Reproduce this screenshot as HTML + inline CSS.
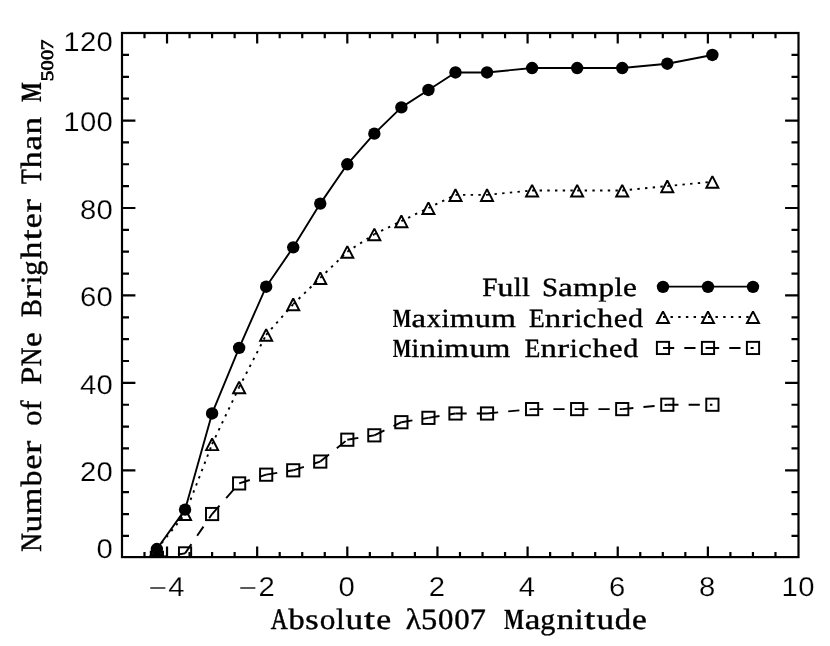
<!DOCTYPE html>
<html lang="en"><head><meta charset="utf-8"><title>PNe luminosity function</title>
<style>
html,body{margin:0;padding:0;background:#fff;}
body{width:830px;height:646px;overflow:hidden;}
svg{display:block;text-rendering:geometricPrecision;will-change:transform;}
.tk{font-family:"Liberation Sans",sans-serif;font-size:27.1px;fill:#000;stroke:#fff;stroke-width:0.2px;}
.ti{font-family:"Liberation Serif",serif;font-size:29.4px;fill:#000;stroke:#000;stroke-width:0.4px;}
.lg{font-family:"Liberation Serif",serif;font-size:26.3px;fill:#000;stroke:#000;stroke-width:0.4px;}
.sb{font-family:"Liberation Serif",serif;font-size:17.6px;fill:#000;stroke:#000;stroke-width:0.7px;}
</style></head><body>
<svg width="830" height="646" viewBox="0 0 830 646">
<rect x="0" y="0" width="830" height="646" fill="#fff"/>
<g stroke="#000" stroke-width="2.2" fill="none" stroke-linecap="butt">
<rect x="122.0" y="33.0" width="676.50" height="524.10"/>
<path d="M144.50 557.1V551.90M144.50 33.0V38.20M167.03 557.1V546.50M167.03 33.0V43.60M189.56 557.1V551.90M189.56 33.0V38.20M212.10 557.1V551.90M212.10 33.0V38.20M234.63 557.1V551.90M234.63 33.0V38.20M257.17 557.1V546.50M257.17 33.0V43.60M279.70 557.1V551.90M279.70 33.0V38.20M302.24 557.1V551.90M302.24 33.0V38.20M324.77 557.1V551.90M324.77 33.0V38.20M347.31 557.1V546.50M347.31 33.0V43.60M369.84 557.1V551.90M369.84 33.0V38.20M392.38 557.1V551.90M392.38 33.0V38.20M414.91 557.1V551.90M414.91 33.0V38.20M437.45 557.1V546.50M437.45 33.0V43.60M459.98 557.1V551.90M459.98 33.0V38.20M482.52 557.1V551.90M482.52 33.0V38.20M505.06 557.1V551.90M505.06 33.0V38.20M527.59 557.1V546.50M527.59 33.0V43.60M550.12 557.1V551.90M550.12 33.0V38.20M572.66 557.1V551.90M572.66 33.0V38.20M595.20 557.1V551.90M595.20 33.0V38.20M617.73 557.1V546.50M617.73 33.0V43.60M640.26 557.1V551.90M640.26 33.0V38.20M662.80 557.1V551.90M662.80 33.0V38.20M685.34 557.1V551.90M685.34 33.0V38.20M707.87 557.1V546.50M707.87 33.0V43.60M730.41 557.1V551.90M730.41 33.0V38.20M752.94 557.1V551.90M752.94 33.0V38.20M775.48 557.1V551.90M775.48 33.0V38.20M122.0 535.89H129.00M798.5 535.89H791.50M122.0 514.03H129.00M798.5 514.03H791.50M122.0 492.17H129.00M798.5 492.17H791.50M122.0 470.31H135.40M798.5 470.31H785.10M122.0 448.45H129.00M798.5 448.45H791.50M122.0 426.59H129.00M798.5 426.59H791.50M122.0 404.73H129.00M798.5 404.73H791.50M122.0 382.87H135.40M798.5 382.87H785.10M122.0 361.01H129.00M798.5 361.01H791.50M122.0 339.14H129.00M798.5 339.14H791.50M122.0 317.28H129.00M798.5 317.28H791.50M122.0 295.42H135.40M798.5 295.42H785.10M122.0 273.56H129.00M798.5 273.56H791.50M122.0 251.70H129.00M798.5 251.70H791.50M122.0 229.84H129.00M798.5 229.84H791.50M122.0 207.98H135.40M798.5 207.98H785.10M122.0 186.12H129.00M798.5 186.12H791.50M122.0 164.26H129.00M798.5 164.26H791.50M122.0 142.40H129.00M798.5 142.40H791.50M122.0 120.54H135.40M798.5 120.54H785.10M122.0 98.68H129.00M798.5 98.68H791.50M122.0 76.82H129.00M798.5 76.82H791.50M122.0 54.96H129.00M798.5 54.96H791.50"/>
</g>
<defs><clipPath id="pc"><rect x="122.0" y="33.0" width="676.50" height="524.10"/></clipPath></defs>
<g clip-path="url(#pc)">
<polyline points="156.89,549.01 185.06,509.66 212.10,413.47 239.14,347.89 266.18,286.68 293.23,247.33 320.27,203.61 347.31,164.26 374.35,133.66 401.39,107.42 428.44,89.94 455.48,72.45 487.03,72.45 532.10,68.07 577.17,68.07 622.24,68.07 667.31,63.70 712.38,54.96" stroke="#000" stroke-width="1.9" fill="none" stroke-linejoin="round"/>
<g stroke="#000" stroke-width="1.9" fill="none" stroke-dasharray="2.4 5.3" stroke-dashoffset="0.2"><line x1="156.89" y1="549.01" x2="185.06" y2="514.03"/><line x1="185.06" y1="514.03" x2="212.10" y2="444.08"/><line x1="212.10" y1="444.08" x2="239.14" y2="387.24"/><line x1="239.14" y1="387.24" x2="266.18" y2="334.77"/><line x1="266.18" y1="334.77" x2="293.23" y2="304.17"/><line x1="293.23" y1="304.17" x2="320.27" y2="277.94"/><line x1="320.27" y1="277.94" x2="347.31" y2="251.70"/><line x1="347.31" y1="251.70" x2="374.35" y2="234.21"/><line x1="374.35" y1="234.21" x2="401.39" y2="221.10"/><line x1="401.39" y1="221.10" x2="428.44" y2="207.98"/><line x1="428.44" y1="207.98" x2="455.48" y2="194.87"/><line x1="455.48" y1="194.87" x2="487.03" y2="194.87"/><line x1="487.03" y1="194.87" x2="532.10" y2="190.49"/><line x1="532.10" y1="190.49" x2="577.17" y2="190.49"/><line x1="577.17" y1="190.49" x2="622.24" y2="190.49"/><line x1="622.24" y1="190.49" x2="667.31" y2="186.12"/><line x1="667.31" y1="186.12" x2="712.38" y2="181.75"/></g>
<g stroke="#000" stroke-width="1.9" fill="none" stroke-dasharray="11.2 10.1"><line x1="156.89" y1="557.75" x2="185.06" y2="553.38"/><line x1="185.06" y1="553.38" x2="212.10" y2="514.03"/><line x1="212.10" y1="514.03" x2="239.14" y2="483.42"/><line x1="239.14" y1="483.42" x2="266.18" y2="474.68"/><line x1="266.18" y1="474.68" x2="293.23" y2="470.31"/><line x1="293.23" y1="470.31" x2="320.27" y2="461.56"/><line x1="320.27" y1="461.56" x2="347.31" y2="439.70"/><line x1="347.31" y1="439.70" x2="374.35" y2="435.33"/><line x1="374.35" y1="435.33" x2="401.39" y2="422.21"/><line x1="401.39" y1="422.21" x2="428.44" y2="417.84"/><line x1="428.44" y1="417.84" x2="455.48" y2="413.47"/><line x1="455.48" y1="413.47" x2="487.03" y2="413.47"/><line x1="487.03" y1="413.47" x2="532.10" y2="409.10"/><line x1="532.10" y1="409.10" x2="577.17" y2="409.10"/><line x1="577.17" y1="409.10" x2="622.24" y2="409.10"/><line x1="622.24" y1="409.10" x2="667.31" y2="404.73"/><line x1="667.31" y1="404.73" x2="712.38" y2="404.73"/></g>
<g fill="#000" stroke="none"><circle cx="156.89" cy="549.01" r="6.2"/><circle cx="185.06" cy="509.66" r="6.2"/><circle cx="212.10" cy="413.47" r="6.2"/><circle cx="239.14" cy="347.89" r="6.2"/><circle cx="266.18" cy="286.68" r="6.2"/><circle cx="293.23" cy="247.33" r="6.2"/><circle cx="320.27" cy="203.61" r="6.2"/><circle cx="347.31" cy="164.26" r="6.2"/><circle cx="374.35" cy="133.66" r="6.2"/><circle cx="401.39" cy="107.42" r="6.2"/><circle cx="428.44" cy="89.94" r="6.2"/><circle cx="455.48" cy="72.45" r="6.2"/><circle cx="487.03" cy="72.45" r="6.2"/><circle cx="532.10" cy="68.07" r="6.2"/><circle cx="577.17" cy="68.07" r="6.2"/><circle cx="622.24" cy="68.07" r="6.2"/><circle cx="667.31" cy="63.70" r="6.2"/><circle cx="712.38" cy="54.96" r="6.2"/></g>
<g fill="none" stroke="#000" stroke-width="1.95" stroke-linejoin="miter" stroke-miterlimit="2"><path d="M150.89 555.06L156.89 543.41L162.89 555.06Z"/><path d="M179.06 520.08L185.06 508.43L191.06 520.08Z"/><path d="M206.10 450.13L212.10 438.48L218.10 450.13Z"/><path d="M233.14 393.29L239.14 381.64L245.14 393.29Z"/><path d="M260.18 340.82L266.18 329.17L272.18 340.82Z"/><path d="M287.23 310.22L293.23 298.57L299.23 310.22Z"/><path d="M314.27 283.99L320.27 272.34L326.27 283.99Z"/><path d="M341.31 257.75L347.31 246.10L353.31 257.75Z"/><path d="M368.35 240.26L374.35 228.61L380.35 240.26Z"/><path d="M395.39 227.15L401.39 215.50L407.39 227.15Z"/><path d="M422.44 214.03L428.44 202.38L434.44 214.03Z"/><path d="M449.48 200.92L455.48 189.27L461.48 200.92Z"/><path d="M481.03 200.92L487.03 189.27L493.03 200.92Z"/><path d="M526.10 196.54L532.10 184.89L538.10 196.54Z"/><path d="M571.17 196.54L577.17 184.89L583.17 196.54Z"/><path d="M616.24 196.54L622.24 184.89L628.24 196.54Z"/><path d="M661.31 192.17L667.31 180.52L673.31 192.17Z"/><path d="M706.38 187.80L712.38 176.15L718.38 187.80Z"/></g>
<g fill="none" stroke="#000" stroke-width="1.95" stroke-linejoin="miter"><rect x="150.79" y="551.65" width="12.2" height="12.2"/><rect x="178.96" y="547.28" width="12.2" height="12.2"/><rect x="206.00" y="507.93" width="12.2" height="12.2"/><rect x="233.04" y="477.32" width="12.2" height="12.2"/><rect x="260.08" y="468.58" width="12.2" height="12.2"/><rect x="287.13" y="464.21" width="12.2" height="12.2"/><rect x="314.17" y="455.46" width="12.2" height="12.2"/><rect x="341.21" y="433.60" width="12.2" height="12.2"/><rect x="368.25" y="429.23" width="12.2" height="12.2"/><rect x="395.29" y="416.11" width="12.2" height="12.2"/><rect x="422.34" y="411.74" width="12.2" height="12.2"/><rect x="449.38" y="407.37" width="12.2" height="12.2"/><rect x="480.93" y="407.37" width="12.2" height="12.2"/><rect x="526.00" y="403.00" width="12.2" height="12.2"/><rect x="571.07" y="403.00" width="12.2" height="12.2"/><rect x="616.14" y="403.00" width="12.2" height="12.2"/><rect x="661.21" y="398.63" width="12.2" height="12.2"/><rect x="706.28" y="398.63" width="12.2" height="12.2"/></g>
</g>
<g stroke="#000" stroke-width="1.9" fill="none">
<line x1="663.0" y1="286.6" x2="753.0" y2="286.6"/>
<g stroke-dasharray="2.4 5.3" stroke-dashoffset="0.2"><line x1="663.0" y1="317.0" x2="708.0" y2="317.0"/><line x1="708.0" y1="317.0" x2="753.0" y2="317.0"/></g>
<g stroke-dasharray="11.2 10.1"><line x1="663.0" y1="347.95" x2="708.0" y2="347.95"/><line x1="708.0" y1="347.95" x2="753.0" y2="347.95"/></g>
</g>
<g fill="#000" stroke="none"><circle cx="663.00" cy="286.85" r="6.2"/><circle cx="708.00" cy="286.85" r="6.2"/><circle cx="753.00" cy="286.85" r="6.2"/></g>
<g fill="none" stroke="#000" stroke-width="1.95" stroke-linejoin="miter" stroke-miterlimit="2"><path d="M657.00 323.05L663.00 311.40L669.00 323.05Z"/><path d="M702.00 323.05L708.00 311.40L714.00 323.05Z"/><path d="M747.00 323.05L753.00 311.40L759.00 323.05Z"/></g>
<g fill="none" stroke="#000" stroke-width="1.95"><rect x="656.90" y="341.85" width="12.2" height="12.2"/><rect x="701.90" y="341.85" width="12.2" height="12.2"/><rect x="746.90" y="341.85" width="12.2" height="12.2"/></g>
<rect x="752.2" y="347.15" width="1.6" height="1.6" fill="#000"/>
<text class="tk" transform="translate(113.1,558.40) scale(1.08,1)" text-anchor="end" letter-spacing="0.3">0</text>
<text class="tk" transform="translate(113.1,481.11) scale(1.08,1)" text-anchor="end" letter-spacing="0.3">20</text>
<text class="tk" transform="translate(113.1,393.67) scale(1.08,1)" text-anchor="end" letter-spacing="0.3">40</text>
<text class="tk" transform="translate(113.1,306.22) scale(1.08,1)" text-anchor="end" letter-spacing="0.3">60</text>
<text class="tk" transform="translate(113.1,218.78) scale(1.08,1)" text-anchor="end" letter-spacing="0.3">80</text>
<text class="tk" transform="translate(113.1,131.34) scale(1.08,1)" text-anchor="end" letter-spacing="0.3">100</text>
<text class="tk" transform="translate(113.1,51.40) scale(1.08,1)" text-anchor="end" letter-spacing="0.3">120</text>
<text class="tk" transform="translate(167.03,595.8) scale(1.08,1)"><tspan x="-17.2" y="0.95" textLength="17.1" lengthAdjust="spacingAndGlyphs">−</tspan><tspan x="1.2" y="0">4</tspan></text>
<text class="tk" transform="translate(257.17,595.8) scale(1.08,1)"><tspan x="-17.2" y="0.95" textLength="17.1" lengthAdjust="spacingAndGlyphs">−</tspan><tspan x="1.2" y="0">2</tspan></text>
<text class="tk" transform="translate(346.81,595.8) scale(1.08,1)" text-anchor="middle" letter-spacing="0.3">0</text>
<text class="tk" transform="translate(436.95,595.8) scale(1.08,1)" text-anchor="middle" letter-spacing="0.3">2</text>
<text class="tk" transform="translate(527.09,595.8) scale(1.08,1)" text-anchor="middle" letter-spacing="0.3">4</text>
<text class="tk" transform="translate(617.23,595.8) scale(1.08,1)" text-anchor="middle" letter-spacing="0.3">6</text>
<text class="tk" transform="translate(707.37,595.8) scale(1.08,1)" text-anchor="middle" letter-spacing="0.3">8</text>
<text class="tk" transform="translate(798.21,595.8) scale(1.08,1)" text-anchor="middle" letter-spacing="0.3">10</text>
<text class="ti" y="629.45"><tspan x="270.77" textLength="16.98" lengthAdjust="spacingAndGlyphs" stroke-width="0.58">A</tspan><tspan x="288.47" textLength="16.14" lengthAdjust="spacingAndGlyphs">b</tspan><tspan x="305.36" textLength="13.41" lengthAdjust="spacingAndGlyphs">s</tspan><tspan x="319.72" textLength="15.63" lengthAdjust="spacingAndGlyphs">o</tspan><tspan x="336.10" textLength="8.67" lengthAdjust="spacingAndGlyphs">l</tspan><tspan x="345.41" textLength="17.64" lengthAdjust="spacingAndGlyphs">u</tspan><tspan x="363.96" textLength="11.03" lengthAdjust="spacingAndGlyphs">t</tspan><tspan x="376.17" textLength="14.89" lengthAdjust="spacingAndGlyphs">e</tspan></text>
<text class="ti" y="629.45"><tspan x="405.67" textLength="15.30" lengthAdjust="spacingAndGlyphs">λ</tspan></text>
<text class="ti" y="629.45"><tspan x="420.92" textLength="16.22" lengthAdjust="spacingAndGlyphs">5</tspan><tspan x="438.00" textLength="15.41" lengthAdjust="spacingAndGlyphs">0</tspan><tspan x="454.38" textLength="15.41" lengthAdjust="spacingAndGlyphs">0</tspan><tspan x="469.81" textLength="16.12" lengthAdjust="spacingAndGlyphs">7</tspan></text>
<text class="ti" y="629.45"><tspan x="504.01" textLength="20.18" lengthAdjust="spacingAndGlyphs" font-weight="bold" stroke-width="0.15">M</tspan><tspan x="524.73" textLength="15.72" lengthAdjust="spacingAndGlyphs">a</tspan><tspan x="540.38" textLength="15.03" lengthAdjust="spacingAndGlyphs">g</tspan><tspan x="556.55" textLength="17.83" lengthAdjust="spacingAndGlyphs">n</tspan><tspan x="574.89" textLength="8.63" lengthAdjust="spacingAndGlyphs">i</tspan><tspan x="584.38" textLength="11.03" lengthAdjust="spacingAndGlyphs">t</tspan><tspan x="596.55" textLength="17.53" lengthAdjust="spacingAndGlyphs">u</tspan><tspan x="614.83" textLength="16.40" lengthAdjust="spacingAndGlyphs">d</tspan><tspan x="632.06" textLength="14.80" lengthAdjust="spacingAndGlyphs">e</tspan></text>
<g transform="translate(40.75,0) rotate(-90)">
<text class="ti" y="0"><tspan x="-551.84" textLength="18.68" lengthAdjust="spacingAndGlyphs" stroke-width="0.51">N</tspan><tspan x="-532.51" textLength="17.57" lengthAdjust="spacingAndGlyphs">u</tspan><tspan x="-514.55" textLength="26.88" lengthAdjust="spacingAndGlyphs">m</tspan><tspan x="-486.50" textLength="16.08" lengthAdjust="spacingAndGlyphs">b</tspan><tspan x="-469.58" textLength="14.83" lengthAdjust="spacingAndGlyphs">e</tspan><tspan x="-454.01" textLength="13.22" lengthAdjust="spacingAndGlyphs">r</tspan></text>
<text class="ti" y="0"><tspan x="-425.75" textLength="15.16" lengthAdjust="spacingAndGlyphs">o</tspan><tspan x="-410.23" textLength="9.73" lengthAdjust="spacingAndGlyphs">f</tspan></text>
<text class="ti" y="0"><tspan x="-384.42" textLength="17.74" lengthAdjust="spacingAndGlyphs">P</tspan><tspan x="-366.19" textLength="18.51" lengthAdjust="spacingAndGlyphs" stroke-width="0.51">N</tspan><tspan x="-347.06" textLength="14.71" lengthAdjust="spacingAndGlyphs">e</tspan></text>
<text class="ti" y="0"><tspan x="-316.97" textLength="17.86" lengthAdjust="spacingAndGlyphs" stroke-width="0.48">B</tspan><tspan x="-298.46" textLength="13.22" lengthAdjust="spacingAndGlyphs">r</tspan><tspan x="-284.33" textLength="8.69" lengthAdjust="spacingAndGlyphs">i</tspan><tspan x="-275.80" textLength="15.16" lengthAdjust="spacingAndGlyphs">g</tspan><tspan x="-258.99" textLength="17.41" lengthAdjust="spacingAndGlyphs">h</tspan><tspan x="-240.50" textLength="11.03" lengthAdjust="spacingAndGlyphs">t</tspan><tspan x="-228.27" textLength="14.92" lengthAdjust="spacingAndGlyphs">e</tspan><tspan x="-212.55" textLength="13.22" lengthAdjust="spacingAndGlyphs">r</tspan></text>
<text class="ti" y="0"><tspan x="-184.03" textLength="14.68" lengthAdjust="spacingAndGlyphs" stroke-width="0.56">T</tspan><tspan x="-168.42" textLength="17.08" lengthAdjust="spacingAndGlyphs">h</tspan><tspan x="-150.54" textLength="15.56" lengthAdjust="spacingAndGlyphs">a</tspan><tspan x="-134.61" textLength="17.64" lengthAdjust="spacingAndGlyphs">n</tspan></text>
<text class="ti" y="0"><tspan x="-101.78" textLength="19.50" lengthAdjust="spacingAndGlyphs" font-weight="bold" stroke-width="0.15">M</tspan></text>
<text class="sb" y="12.2"><tspan x="-81.39" textLength="10.68" lengthAdjust="spacingAndGlyphs">5</tspan><tspan x="-70.49" textLength="10.15" lengthAdjust="spacingAndGlyphs">0</tspan><tspan x="-60.06" textLength="10.15" lengthAdjust="spacingAndGlyphs">0</tspan><tspan x="-50.25" textLength="10.61" lengthAdjust="spacingAndGlyphs">7</tspan></text>
</g>
<text class="lg" y="296.4"><tspan x="482.31" textLength="15.28" lengthAdjust="spacingAndGlyphs">F</tspan><tspan x="497.55" textLength="15.95" lengthAdjust="spacingAndGlyphs">u</tspan><tspan x="513.75" textLength="7.95" lengthAdjust="spacingAndGlyphs">l</tspan><tspan x="521.92" textLength="7.95" lengthAdjust="spacingAndGlyphs">l</tspan></text>
<text class="lg" y="296.4"><tspan x="541.97" textLength="16.04" lengthAdjust="spacingAndGlyphs">S</tspan><tspan x="558.06" textLength="14.71" lengthAdjust="spacingAndGlyphs">a</tspan><tspan x="573.10" textLength="24.99" lengthAdjust="spacingAndGlyphs">m</tspan><tspan x="598.56" textLength="15.58" lengthAdjust="spacingAndGlyphs">p</tspan><tspan x="614.56" textLength="8.14" lengthAdjust="spacingAndGlyphs">l</tspan><tspan x="623.12" textLength="13.86" lengthAdjust="spacingAndGlyphs">e</tspan></text>
<text class="lg" y="326.9"><tspan x="392.64" textLength="18.58" lengthAdjust="spacingAndGlyphs" font-weight="bold" stroke-width="0.15">M</tspan><tspan x="411.55" textLength="14.50" lengthAdjust="spacingAndGlyphs">a</tspan><tspan x="426.77" textLength="14.26" lengthAdjust="spacingAndGlyphs">x</tspan><tspan x="441.49" textLength="8.03" lengthAdjust="spacingAndGlyphs">i</tspan><tspan x="449.72" textLength="24.62" lengthAdjust="spacingAndGlyphs">m</tspan><tspan x="474.83" textLength="16.15" lengthAdjust="spacingAndGlyphs">u</tspan><tspan x="491.18" textLength="24.62" lengthAdjust="spacingAndGlyphs">m</tspan></text>
<text class="lg" y="326.9"><tspan x="529.06" textLength="15.66" lengthAdjust="spacingAndGlyphs">E</tspan><tspan x="544.85" textLength="16.40" lengthAdjust="spacingAndGlyphs">n</tspan><tspan x="561.75" textLength="11.82" lengthAdjust="spacingAndGlyphs">r</tspan><tspan x="574.36" textLength="8.03" lengthAdjust="spacingAndGlyphs">i</tspan><tspan x="582.84" textLength="13.48" lengthAdjust="spacingAndGlyphs">c</tspan><tspan x="597.23" textLength="15.88" lengthAdjust="spacingAndGlyphs">h</tspan><tspan x="613.65" textLength="13.65" lengthAdjust="spacingAndGlyphs">e</tspan><tspan x="628.07" textLength="15.10" lengthAdjust="spacingAndGlyphs">d</tspan></text>
<text class="lg" y="357.25"><tspan x="392.64" textLength="18.56" lengthAdjust="spacingAndGlyphs" font-weight="bold" stroke-width="0.15">M</tspan><tspan x="411.32" textLength="8.03" lengthAdjust="spacingAndGlyphs">i</tspan><tspan x="419.45" textLength="16.40" lengthAdjust="spacingAndGlyphs">n</tspan><tspan x="436.16" textLength="8.03" lengthAdjust="spacingAndGlyphs">i</tspan><tspan x="444.39" textLength="24.59" lengthAdjust="spacingAndGlyphs">m</tspan><tspan x="469.47" textLength="16.13" lengthAdjust="spacingAndGlyphs">u</tspan><tspan x="485.80" textLength="24.59" lengthAdjust="spacingAndGlyphs">m</tspan></text>
<text class="lg" y="357.25"><tspan x="524.77" textLength="15.58" lengthAdjust="spacingAndGlyphs">E</tspan><tspan x="540.47" textLength="16.32" lengthAdjust="spacingAndGlyphs">n</tspan><tspan x="557.25" textLength="11.82" lengthAdjust="spacingAndGlyphs">r</tspan><tspan x="569.81" textLength="7.99" lengthAdjust="spacingAndGlyphs">i</tspan><tspan x="578.25" textLength="13.41" lengthAdjust="spacingAndGlyphs">c</tspan><tspan x="592.57" textLength="15.80" lengthAdjust="spacingAndGlyphs">h</tspan><tspan x="608.90" textLength="13.59" lengthAdjust="spacingAndGlyphs">e</tspan><tspan x="623.24" textLength="15.03" lengthAdjust="spacingAndGlyphs">d</tspan></text>
</svg></body></html>
